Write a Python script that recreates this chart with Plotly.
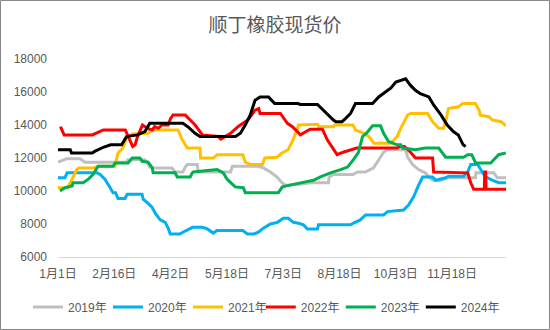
import plotly.graph_objects as go

# Day-of-year (0 = Jan 1) and price values
d2019 = [0, 7, 18, 22, 56, 57, 71, 75, 79, 93, 95.7, 102, 104, 105.6, 113.7, 114.6, 141, 142.4, 162.8, 167.8, 173.5, 179, 183, 185.8, 196, 206, 221, 221.5, 225, 241, 244.7, 251, 257.8, 262, 266, 269, 284, 285.6, 289.7, 294.6, 300, 306, 312.6, 318, 341, 341.5, 356, 359, 366]
v2019 = [11750, 11950, 11950, 11750, 11750, 11900, 11900, 11450, 11400, 11400, 11150, 11150, 11450, 11600, 11600, 11150, 11150, 11500, 11500, 11400, 11150, 10850, 10500, 10350, 10400, 10500, 10500, 10850, 11000, 11000, 11150, 11150, 11400, 11900, 12350, 12500, 12500, 12050, 11600, 11300, 11100, 10650, 10650, 10800, 10800, 11100, 11100, 10800, 10800]

d2020 = [0, 5.7, 7.4, 32, 34.4, 38.5, 42.6, 45, 47, 49, 54.8, 56.5, 68.7, 69.6, 73.6, 77, 79.4, 83.5, 87.6, 90, 91.7, 99.8, 102, 106, 110, 118, 122, 126.8, 130, 151, 154.7, 160, 163.7, 167.8, 173.5, 179.2, 184.1, 188.2, 192.3, 196.4, 200.5, 203.8, 212, 212.8, 239, 241.4, 247, 251.2, 266, 269.2, 282.3, 286.4, 290.5, 294.6, 297.9, 306, 308.5, 316.7, 319.1, 331.4, 334.7, 337.2, 342.9, 345.3, 349.4, 355.2, 360, 366]
v2020 = [10800, 10800, 11100, 11100, 11000, 10700, 10200, 9900, 9900, 9550, 9550, 9800, 9800, 9500, 9250, 9000, 8650, 8250, 8100, 7750, 7400, 7400, 7500, 7650, 7800, 7800, 7700, 7450, 7600, 7600, 7400, 7400, 7500, 7750, 8000, 8100, 8350, 8350, 8100, 8050, 7950, 7700, 7700, 7950, 7950, 8050, 8250, 8550, 8550, 8750, 8850, 9150, 9650, 10350, 10850, 10850, 10650, 10800, 10900, 10900, 11150, 11600, 11600, 11300, 10850, 10650, 10500, 10500]

d2021 = [0, 8, 12, 15.5, 17, 28.6, 34, 46.6, 49, 53, 56.5, 60.6, 73.6, 77, 98, 101.5, 105.6, 116, 116.5, 127, 130, 151, 153, 157, 167, 169, 179, 183, 188, 192, 195.6, 196.4, 212, 213, 225, 226, 241, 243, 250, 254, 257, 258, 272, 277, 280, 285.6, 288, 302, 306, 311, 315, 317, 319, 327, 330.6, 341, 344, 345, 352, 355, 362, 366]
v2021 = [10200, 10200, 10800, 11300, 11400, 11400, 11500, 11500, 12300, 12600, 13300, 13450, 13500, 13700, 13700, 13100, 12600, 12600, 12000, 12000, 12200, 12200, 11750, 11600, 11600, 12000, 12050, 12300, 12500, 13100, 13800, 14000, 14050, 13900, 13900, 14000, 14000, 13700, 13500, 13300, 13000, 12900, 12900, 13300, 13800, 14600, 14700, 14700, 14200, 13800, 13800, 14300, 15000, 15100, 15300, 15300, 14900, 14600, 14500, 14300, 14200, 13950]

d2022 = [2, 5, 28, 37, 55, 61, 63, 65, 69, 73, 77, 79, 82, 85, 90, 92, 94, 104, 108, 112, 118, 131, 133, 141, 147, 155, 161, 164, 165, 181.7, 187.4, 191.5, 195.6, 198, 206, 216, 220, 225, 228, 233, 244, 277, 279, 283, 288, 292, 306, 306.9, 334.7, 337.2, 339.6, 348.3, 348.6, 349.4, 349.7, 366]
v2022 = [13900, 13400, 13400, 13700, 13700, 12700, 12800, 13300, 14000, 13800, 13700, 13900, 13800, 14000, 14000, 14400, 14600, 14600, 14300, 14000, 13400, 13300, 13150, 13500, 13900, 14300, 14900, 15000, 14700, 14700, 14100, 13900, 13600, 13400, 13750, 13750, 13100, 12500, 12200, 12350, 12600, 12600, 12700, 12700, 12350, 12000, 12000, 11150, 11100, 10500, 10100, 10100, 11150, 11150, 10100, 10100]

d2023 = [1.6, 5.7, 11.5, 12.3, 20.5, 24.5, 28.6, 32, 32.7, 45, 46.6, 57.3, 60.6, 67, 68.7, 73.6, 77, 77.7, 95.7, 97.4, 108, 109.7, 110.5, 130, 135, 138.3, 144.8, 151.4, 153, 180, 183.3, 192.3, 208.7, 214.4, 222.6, 230.8, 236.5, 241.4, 245.5, 248.8, 252, 257, 263.5, 266, 270, 277, 280, 281.5, 292, 300, 311, 316.7, 331.4, 334.7, 338, 341.2, 353.5, 360, 365.8]
v2023 = [10000, 10200, 10300, 10500, 10500, 10700, 11000, 11400, 11500, 11500, 11700, 11700, 12000, 12000, 11800, 11750, 11400, 11100, 11100, 10850, 10850, 11100, 11150, 11300, 11100, 10700, 10250, 10200, 9900, 9900, 10250, 10400, 10650, 10850, 11100, 11300, 11450, 11900, 12350, 13300, 13500, 13950, 13950, 13500, 13000, 12800, 12800, 12600, 12500, 12600, 12600, 12050, 12050, 12200, 12200, 11700, 11700, 12200, 12300]

d2024 = [0, 10, 11, 28, 30, 37, 43, 52, 56, 65, 71, 75, 102, 106, 112, 116, 145, 149, 153, 157, 161, 165, 172, 177, 196, 198, 212, 218, 225, 227, 232, 235, 239, 243, 257, 262, 268, 272, 276, 280, 284, 288, 292, 296, 303, 307, 313, 318, 323, 327, 331, 333]
v2024 = [12500, 12500, 12300, 12300, 12400, 12650, 12800, 12800, 13300, 13400, 13600, 14100, 14100, 13900, 13500, 13300, 13300, 13500, 14000, 14600, 15500, 15700, 15700, 15300, 15300, 15250, 15250, 14800, 14300, 14200, 14200, 14400, 14700, 15300, 15300, 15700, 16000, 16250, 16600, 16700, 16800, 16400, 16100, 15900, 15700, 15200, 14600, 14000, 13600, 13400, 12800, 12700]

names = ["2019年", "2020年", "2021年", "2022年", "2023年", "2024年"]
colors = ["#BFBFBF", "#00B0F0", "#FFC000", "#FF0000", "#00B050", "#000000"]
tick_days = [0, 46, 92, 138, 184, 230, 276, 322]
tick_text = ["1月1日", "2月16日", "4月2日", "5月18日", "7月3日", "8月18日", "10月3日", "11月18日"]

series = [(d2019, v2019), (d2020, v2020), (d2021, v2021), (d2022, v2022), (d2023, v2023), (d2024, v2024)]

fig = go.Figure()
for i, ((d, v), n, c) in enumerate(zip(series, names, colors)):
    fig.add_trace(go.Scatter(x=d, y=v, name=n, mode="lines",
                             line=dict(color=c, width=3),
                             legend="legend" if i < 3 else "legend2"))

ml, mr, mt, mb = 58, 44, 59, 73
pw, ph = 550 - ml - mr, 330 - mt - mb

font_fam = "Liberation Sans, Noto Sans CJK SC, sans-serif"
leg_common = dict(orientation="h", xref="container", yref="container",
                  xanchor="left", y=1 - 307 / 330, yanchor="middle",
                  entrywidth=35, entrywidthmode="pixels", itemwidth=30,
                  font=dict(size=12, color="#595959"), traceorder="normal",
                  bgcolor="rgba(0,0,0,0)")
fig.update_layout(
    width=550, height=330,
    margin=dict(l=ml, r=mr, t=mt, b=mb),
    paper_bgcolor="white", plot_bgcolor="white",
    font=dict(family=font_fam, size=12, color="#595959"),
    title=dict(text="顺丁橡胶现货价", x=0.5, xanchor="center",
               y=1 - 25 / 330, yanchor="middle", yref="container",
               font=dict(family="Noto Sans CJK SC", size=19, color="#595959")),
    xaxis=dict(range=[0, 366], tickmode="array", tickvals=tick_days, ticktext=tick_text,
               showgrid=False, zeroline=False, showline=True, linecolor="#D9D9D9",
               linewidth=1, ticks="", ticklabelstandoff=6,
               tickfont=dict(size=12, color="#595959")),
    yaxis=dict(range=[6000, 18000], dtick=2000, tick0=6000, tickformat="d", showgrid=False,
               zeroline=False, showline=False, ticks="", ticklabelstandoff=10,
               tickfont=dict(size=12, color="#595959")),
    legend=dict(x=28 / 550, **leg_common),
    legend2=dict(x=(28 + 3 * 77.6) / 550, **leg_common),
    showlegend=True,
)

# chart border
fig.add_shape(type="rect", xref="paper", yref="paper",
              x0=-(ml - 0.5) / pw, x1=1 + (mr - 0.5) / pw,
              y0=-(mb - 0.5) / ph, y1=1 + (mt - 0.5) / ph,
              line=dict(color="#888888", width=1), fillcolor="rgba(0,0,0,0)", layer="below")

fig.write_html("out.html")
